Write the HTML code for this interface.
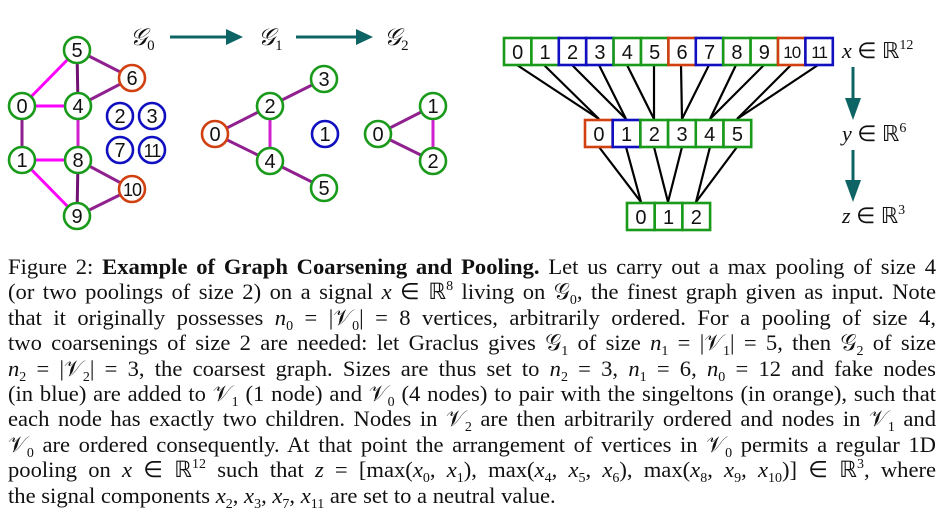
<!DOCTYPE html>
<html><head><meta charset="utf-8"><style>
body{margin:0;width:942px;height:514px;background:#fff;overflow:hidden;position:relative;font-family:"Liberation Serif",serif;}
svg{position:absolute;left:0;top:0}
.cap{position:absolute;left:8px;top:254px;width:928px;font-size:22.6px;line-height:25.4px;color:#111}
.cap div{text-align:justify;text-align-last:justify;white-space:nowrap;height:25.4px;overflow:visible}
.cap div.last{text-align-last:left}
i{font-style:italic}
sub,sup{font-size:14px;line-height:0;vertical-align:baseline;position:relative}
sub{top:5px}
sup{top:-9px}
</style></head><body>
<svg width="942" height="250" font-family="Liberation Sans, sans-serif">
<g stroke-width="3">
<line x1="77" y1="50" x2="22" y2="106" stroke="#f0f"/>
<line x1="22" y1="106" x2="78" y2="106" stroke="#f0f"/>
<line x1="22" y1="160" x2="78" y2="160" stroke="#f0f"/>
<line x1="22" y1="160" x2="77" y2="216" stroke="#f0f"/>
<line x1="78" y1="106" x2="78" y2="160" stroke="#d020d0"/>
<line x1="77" y1="50" x2="78" y2="106" stroke="#701070"/>
<line x1="78" y1="160" x2="77" y2="216" stroke="#701070"/>
<line x1="22" y1="106" x2="22" y2="160" stroke="#902090"/>
<line x1="77" y1="50" x2="132" y2="78" stroke="#902090"/>
<line x1="78" y1="106" x2="132" y2="78" stroke="#902090"/>
<line x1="78" y1="160" x2="132" y2="189" stroke="#902090"/>
<line x1="77" y1="216" x2="132" y2="189" stroke="#902090"/>
<line x1="270" y1="106" x2="324" y2="79" stroke="#902090"/>
<line x1="270" y1="106" x2="215" y2="134" stroke="#902090"/>
<line x1="215" y1="134" x2="270" y2="161" stroke="#902090"/>
<line x1="270" y1="106" x2="270" y2="161" stroke="#d020d0"/>
<line x1="270" y1="161" x2="324" y2="188" stroke="#902090"/>
<line x1="378" y1="134" x2="433" y2="106" stroke="#902090"/>
<line x1="378" y1="134" x2="433" y2="161" stroke="#902090"/>
<line x1="433" y1="106" x2="433" y2="161" stroke="#d020d0"/>
</g>
<g stroke-width="2.6" fill="#fff">
<g stroke="#1a9a1a">
<circle cx="77" cy="50" r="13"/><circle cx="22" cy="106" r="13"/><circle cx="78" cy="106" r="13"/><circle cx="22" cy="160" r="13"/><circle cx="78" cy="160" r="13"/><circle cx="77" cy="216" r="13"/>
<circle cx="324" cy="79" r="13"/><circle cx="270" cy="106" r="13"/><circle cx="270" cy="161" r="13"/><circle cx="324" cy="188" r="13"/>
<circle cx="433" cy="106" r="13"/><circle cx="378" cy="134" r="13"/><circle cx="433" cy="161" r="13"/>
</g>
<g stroke="#d04010"><circle cx="132" cy="78" r="13"/><circle cx="132" cy="189" r="13"/><circle cx="215" cy="134" r="13"/></g>
<g stroke="#1010c0"><circle cx="120" cy="116" r="13"/><circle cx="152" cy="116" r="13"/><circle cx="120" cy="150" r="13"/><circle cx="152" cy="150" r="13"/><circle cx="325" cy="134" r="13"/></g>
</g>
<g font-size="20" text-anchor="middle" fill="#111">
<text x="77" y="57">5</text><text x="132" y="85">6</text><text x="22" y="113">0</text><text x="78" y="113">4</text><text x="22" y="167">1</text><text x="78" y="167">8</text><text x="132" y="196" font-size="18" letter-spacing="-1">10</text><text x="77" y="223">9</text>
<text x="120" y="123">2</text><text x="152" y="123">3</text><text x="120" y="157">7</text><text x="152" y="157" font-size="18" letter-spacing="-1">11</text>
<text x="324" y="86">3</text><text x="270" y="113">2</text><text x="215" y="141">0</text><text x="325" y="141">1</text><text x="270" y="168">4</text><text x="324" y="195">5</text>
<text x="433" y="113">1</text><text x="378" y="141">0</text><text x="433" y="168">2</text>
</g>
<g font-family="Liberation Serif, serif" font-style="italic" font-size="24" fill="#111">
<text x="130" y="45">𝒢<tspan font-size="15" font-style="normal" dy="5">0</tspan></text>
<text x="258" y="45">𝒢<tspan font-size="15" font-style="normal" dy="5">1</tspan></text>
<text x="384" y="45">𝒢<tspan font-size="15" font-style="normal" dy="5">2</tspan></text>
</g>
<g fill="#0e6464" stroke="#0e6464">
<line x1="170" y1="37" x2="228" y2="37" stroke-width="3"/><path d="M226,29 L243,37 L226,45Z" stroke="none"/>
<line x1="296" y1="37" x2="358" y2="37" stroke-width="3"/><path d="M356,29 L373,37 L356,45Z" stroke="none"/>
<line x1="853" y1="67" x2="853" y2="100" stroke-width="3"/><path d="M845,98 L853,120 L861,98Z" stroke="none"/>
<line x1="853" y1="150" x2="853" y2="182" stroke-width="3"/><path d="M845,180 L853,202 L861,180Z" stroke="none"/>
</g>
<g stroke="#000" stroke-width="2.2">
<line x1="517" y1="65" x2="599" y2="119"/><line x1="544" y1="65" x2="599" y2="119"/>
<line x1="572" y1="65" x2="626" y2="119"/><line x1="599" y1="65" x2="626" y2="119"/>
<line x1="627" y1="65" x2="654" y2="119"/><line x1="654" y1="65" x2="654" y2="119"/>
<line x1="681" y1="65" x2="682" y2="119"/><line x1="709" y1="65" x2="682" y2="119"/>
<line x1="736" y1="65" x2="710" y2="119"/><line x1="764" y1="65" x2="710" y2="119"/>
<line x1="791" y1="65" x2="737" y2="119"/><line x1="818" y1="65" x2="737" y2="119"/>
<line x1="599" y1="147" x2="641" y2="202"/><line x1="626" y1="147" x2="641" y2="202"/>
<line x1="654" y1="147" x2="668" y2="202"/><line x1="682" y1="147" x2="668" y2="202"/>
<line x1="710" y1="147" x2="696" y2="202"/><line x1="737" y1="147" x2="696" y2="202"/>
</g>
<g fill="#fff" stroke-width="2.6">
<rect x="504" y="38" width="27.4" height="27" stroke="#1a9a1a"/><rect x="531.4" y="38" width="27.4" height="27" stroke="#1a9a1a"/>
<rect x="558.8" y="38" width="27.4" height="27" stroke="#1010c0"/><rect x="586.2" y="38" width="27.4" height="27" stroke="#1010c0"/>
<rect x="613.6" y="38" width="27.4" height="27" stroke="#1a9a1a"/><rect x="641" y="38" width="27.4" height="27" stroke="#1a9a1a"/>
<rect x="668.4" y="38" width="27.4" height="27" stroke="#d04010"/><rect x="695.8" y="38" width="27.4" height="27" stroke="#1010c0"/>
<rect x="723.2" y="38" width="27.4" height="27" stroke="#1a9a1a"/><rect x="750.6" y="38" width="27.4" height="27" stroke="#1a9a1a"/>
<rect x="778" y="38" width="27.4" height="27" stroke="#d04010"/><rect x="805.4" y="38" width="27.4" height="27" stroke="#1010c0"/>
<rect x="585" y="120" width="27.7" height="27" stroke="#d04010"/><rect x="612.7" y="120" width="27.7" height="27" stroke="#1010c0"/>
<rect x="640.4" y="120" width="27.7" height="27" stroke="#1a9a1a"/><rect x="668.1" y="120" width="27.7" height="27" stroke="#1a9a1a"/>
<rect x="695.8" y="120" width="27.7" height="27" stroke="#1a9a1a"/><rect x="723.5" y="120" width="27.7" height="27" stroke="#1a9a1a"/>
<rect x="627" y="203" width="27.7" height="27" stroke="#1a9a1a"/><rect x="654.7" y="203" width="27.7" height="27" stroke="#1a9a1a"/><rect x="682.4" y="203" width="27.7" height="27" stroke="#1a9a1a"/>
</g>
<g font-size="20" text-anchor="middle" fill="#111">
<text x="517.7" y="59">0</text><text x="545.1" y="59">1</text><text x="572.5" y="59">2</text><text x="599.9" y="59">3</text><text x="627.3" y="59">4</text><text x="654.7" y="59">5</text><text x="682.1" y="59">6</text><text x="709.5" y="59">7</text><text x="736.9" y="59">8</text><text x="764.3" y="59">9</text>
<text x="791.7" y="58" font-size="17" letter-spacing="-1">10</text><text x="819.1" y="58" font-size="17" letter-spacing="-1">11</text>
<text x="598.9" y="141">0</text><text x="626.6" y="141">1</text><text x="654.3" y="141">2</text><text x="682" y="141">3</text><text x="709.7" y="141">4</text><text x="737.4" y="141">5</text>
<text x="640.9" y="224">0</text><text x="668.6" y="224">1</text><text x="696.3" y="224">2</text>
</g>
<g font-family="Liberation Serif, serif" font-size="22" fill="#111">
<text x="842" y="58"><tspan font-style="italic">x</tspan> ∈ ℝ<tspan font-size="14" dy="-9">12</tspan></text>
<text x="842" y="141"><tspan font-style="italic">y</tspan> ∈ ℝ<tspan font-size="14" dy="-9">6</tspan></text>
<text x="842" y="223"><tspan font-style="italic">z</tspan> ∈ ℝ<tspan font-size="14" dy="-9">3</tspan></text>
</g>
</svg>
<div class="cap">
<div>Figure 2: <b>Example of Graph Coarsening and Pooling.</b> Let us carry out a max pooling of size 4</div>
<div>(or two poolings of size 2) on a signal <i>x</i> ∈ ℝ<sup>8</sup> living on 𝒢<sub>0</sub>, the finest graph given as input. Note</div>
<div>that it originally possesses <i>n</i><sub>0</sub> = |𝒱<sub>0</sub>| = 8 vertices, arbitrarily ordered. For a pooling of size 4,</div>
<div>two coarsenings of size 2 are needed: let Graclus gives 𝒢<sub>1</sub> of size <i>n</i><sub>1</sub> = |𝒱<sub>1</sub>| = 5, then 𝒢<sub>2</sub> of size</div>
<div><i>n</i><sub>2</sub> = |𝒱<sub>2</sub>| = 3, the coarsest graph. Sizes are thus set to <i>n</i><sub>2</sub> = 3, <i>n</i><sub>1</sub> = 6, <i>n</i><sub>0</sub> = 12 and fake nodes</div>
<div>(in blue) are added to 𝒱<sub>1</sub> (1 node) and 𝒱<sub>0</sub> (4 nodes) to pair with the singeltons (in orange), such that</div>
<div>each node has exactly two children. Nodes in 𝒱<sub>2</sub> are then arbitrarily ordered and nodes in 𝒱<sub>1</sub> and</div>
<div>𝒱<sub>0</sub> are ordered consequently. At that point the arrangement of vertices in 𝒱<sub>0</sub> permits a regular 1D</div>
<div>pooling on <i>x</i> ∈ ℝ<sup>12</sup> such that <i>z</i> = [max(<i>x</i><sub>0</sub>, <i>x</i><sub>1</sub>), max(<i>x</i><sub>4</sub>, <i>x</i><sub>5</sub>, <i>x</i><sub>6</sub>), max(<i>x</i><sub>8</sub>, <i>x</i><sub>9</sub>, <i>x</i><sub>10</sub>)] ∈ ℝ<sup>3</sup>, where</div>
<div class="last">the signal components <i>x</i><sub>2</sub>, <i>x</i><sub>3</sub>, <i>x</i><sub>7</sub>, <i>x</i><sub>11</sub> are set to a neutral value.</div>
</div>
</body></html>
